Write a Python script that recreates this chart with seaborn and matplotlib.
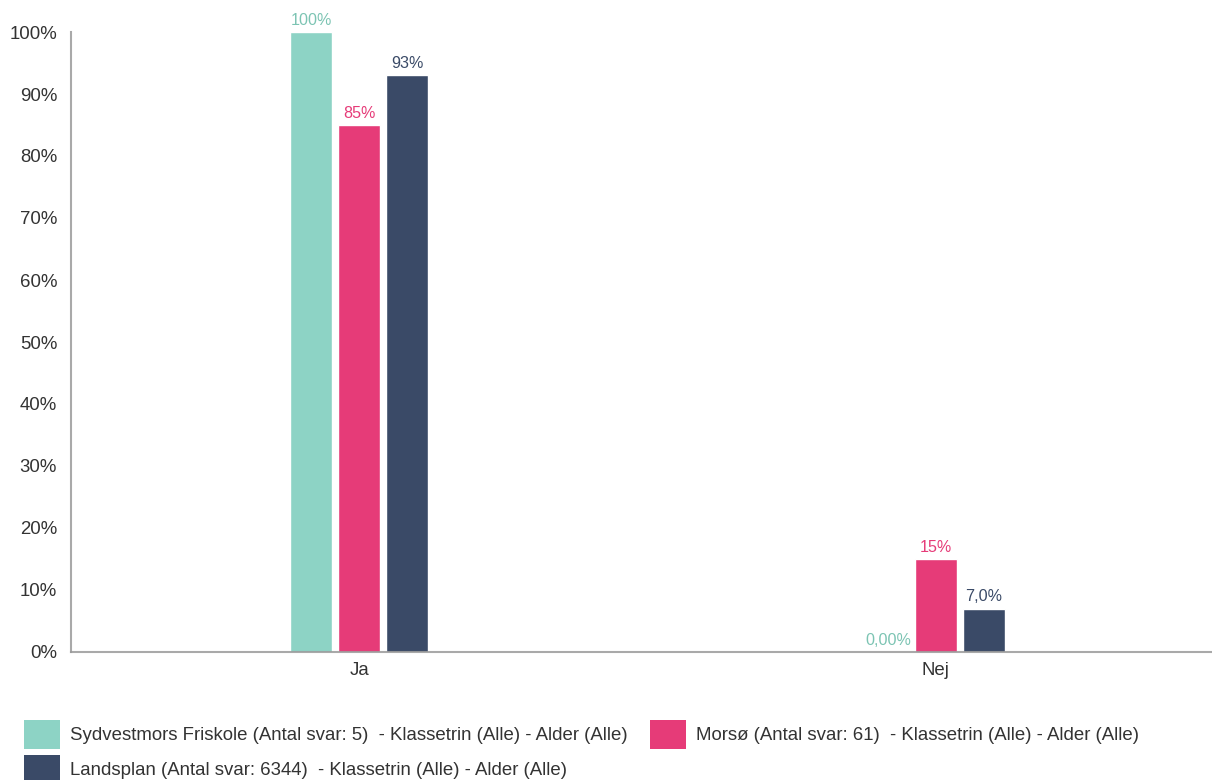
import pandas as pd
import matplotlib.pyplot as plt
import seaborn as sns
from matplotlib.patches import Patch

categories = ['Ja', 'Nej']
series = ['Sydvestmors Friskole (Antal svar: 5)  - Klassetrin (Alle) - Alder (Alle)',
          'Morsø (Antal svar: 61)  - Klassetrin (Alle) - Alder (Alle)',
          'Landsplan (Antal svar: 6344)  - Klassetrin (Alle) - Alder (Alle)']
friskole = [100, 0]
morsoe = [85, 15]
landsplan = [93, 7]
friskole_labels = ['100%', '0,00%']
morsoe_labels = ['85%', '15%']
landsplan_labels = ['93%', '7,0%']

colors = ['#8DD3C5', '#E63B78', '#3A4A67']
label_colors = ['#7CC4B3', '#E63B78', '#3A4A67']

sns.set_style('white')
plt.rcParams['font.family'] = ['Liberation Sans', 'DejaVu Sans']

rows = []
for s, vals in zip(series, [friskole, morsoe, landsplan]):
    for c, v in zip(categories, vals):
        rows.append({'kategori': c, 'serie': s, 'værdi': v})
df = pd.DataFrame(rows)

fig = plt.figure(figsize=(12.12, 7.8), dpi=100)
# axes runs a little past the right edge, like the original
ax = fig.add_axes([71 / 1212, 128 / 780, 1153 / 1212, 620 / 780])

sns.barplot(data=df, x='kategori', y='værdi', hue='serie', hue_order=series,
            palette=colors, width=0.249, gap=0.125, saturation=1, legend=False, ax=ax)

for cont, labs, lc in zip(ax.containers, [friskole_labels, morsoe_labels, landsplan_labels], label_colors):
    ax.bar_label(cont, labels=labs, padding=3, color=lc, fontsize=11.6)

ax.set_ylim(0, 100)
ax.set_xlim(-0.5, 1.5)
ax.set_yticks(range(0, 101, 10))
ax.set_yticklabels([f'{t}%' for t in range(0, 101, 10)])
ax.set_xlabel('')
ax.set_ylabel('')
ax.tick_params(axis='both', labelsize=13.4, colors='#333333', length=0)
ax.tick_params(axis='y', pad=10)
ax.tick_params(axis='x', pad=7)
for side in ['top', 'right']:
    ax.spines[side].set_visible(False)
for side in ['left', 'bottom']:
    ax.spines[side].set_color('#9A9A9A')
    ax.spines[side].set_alpha(0.85)
    ax.spines[side].set_linewidth(1.5)
    ax.spines[side].set_zorder(5)

handles = [Patch(facecolor=c, edgecolor='none', label=s) for c, s in zip(colors, series)]
order = [0, 2, 1]
fig.legend([handles[i] for i in order], [series[i] for i in order],
           loc='upper left', bbox_to_anchor=(24 / 1212, 1 - 720 / 780), ncol=2, frameon=False,
           fontsize=13.4, handlelength=1.94, handleheight=2.0, handletextpad=0.54,
           columnspacing=1.18, labelspacing=0.34, borderpad=0, borderaxespad=0,
           labelcolor='#333333')

fig.savefig('out.png', dpi=100)
